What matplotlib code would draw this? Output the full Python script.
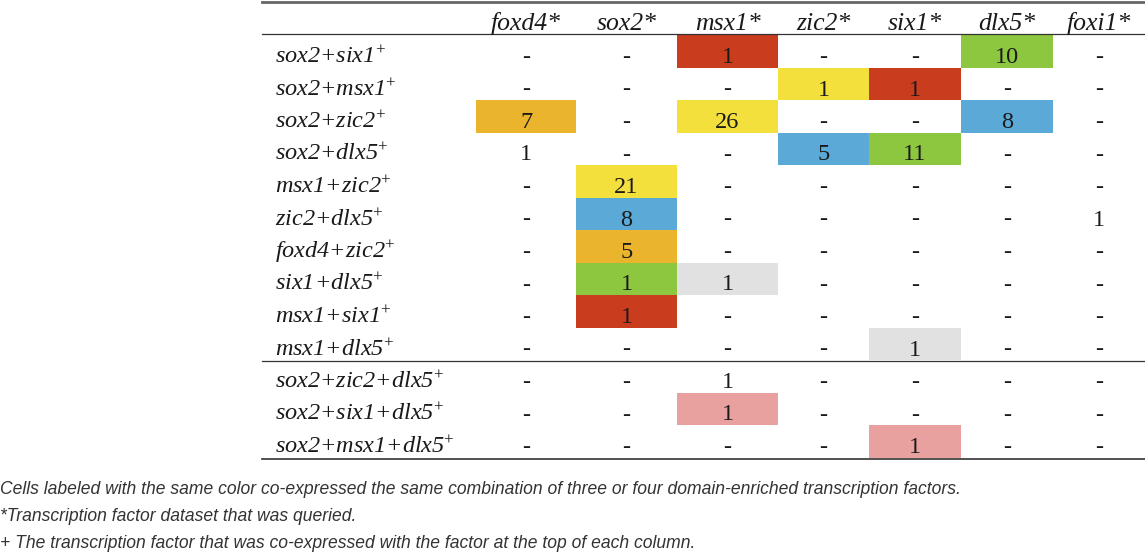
import matplotlib
matplotlib.use("Agg")
import matplotlib.pyplot as plt
from matplotlib.patches import Rectangle

# ---- data ----
columnas = ["foxd4*", "sox2*", "msx1*", "zic2*", "six1*", "dlx5*", "foxi1*"]
filas = ["sox2+six1", "sox2+msx1", "sox2+zic2", "sox2+dlx5", "msx1+zic2",
         "zic2+dlx5", "foxd4+zic2", "six1+dlx5", "msx1+six1", "msx1+dlx5",
         "sox2+zic2+dlx5", "sox2+six1+dlx5", "sox2+msx1+dlx5"]
valores = [
    [None, None, 1, None, None, 10, None],
    [None, None, None, 1, 1, None, None],
    [7, None, 26, None, None, 8, None],
    [1, None, None, 5, 11, None, None],
    [None, 21, None, None, None, None, None],
    [None, 8, None, None, None, None, 1],
    [None, 5, None, None, None, None, None],
    [None, 1, 1, None, None, None, None],
    [None, 1, None, None, None, None, None],
    [None, None, None, None, 1, None, None],
    [None, None, 1, None, None, None, None],
    [None, None, 1, None, None, None, None],
    [None, None, None, None, 1, None, None],
]
# color code per cell: R red, G green, Y yellow, B blue, O orange, W gray, P pink
codigos = [
    "..R..G.",
    "...YR..",
    "O.Y..B.",
    "...BG..",
    ".Y.....",
    ".B.....",
    ".O.....",
    ".GW....",
    ".R.....",
    "....W..",
    ".......",
    "..P....",
    "....P..",
]
notas = [
    "Cells labeled with the same color co-expressed the same combination of three or four domain-enriched transcription factors.",
    "*Transcription factor dataset that was queried.",
    "+ The transcription factor that was co-expressed with the factor at the top of each column.",
]

paleta = {"R": "#c93c1d", "G": "#8dc63f", "Y": "#f4e03c", "B": "#5aa9d7",
          "O": "#ebb42d", "W": "#e1e1e1", "P": "#e9a19f"}

plt.rcParams['mathtext.fontset'] = 'custom'
plt.rcParams['mathtext.rm'] = 'Liberation Serif'
plt.rcParams['mathtext.it'] = 'Liberation Serif:italic'

fig = plt.figure(figsize=(11.45, 5.56), dpi=100)
ax = fig.add_axes([0, 0, 1, 1])
ax.set_xlim(0, 1145)
ax.set_ylim(556, 0)
ax.axis("off")

bordes = [476, 576, 677, 778, 869, 961, 1053, 1145]
x0, x1 = 262, 1145
y_top = 35
alto = 32.5
fs = 17.5
serif = "Liberation Serif"
tinta = "#1a1a1a"

# header
for j, c in enumerate(columnas):
    xc = (bordes[j] + bordes[j + 1]) / 2
    ax.text(xc, 30, c, ha="center", va="baseline", fontsize=18.5,
            family=serif, style="italic", color=tinta)

for i, f in enumerate(filas):
    yb = y_top + alto * i + 28
    ax.text(275, yb, f + r"$^{+}$", ha="left", va="baseline", fontsize=fs,
            family=serif, style="italic", color=tinta)
    for j in range(len(columnas)):
        k = codigos[i][j]
        if k != ".":
            ax.add_patch(Rectangle((bordes[j], y_top + alto * i),
                                   bordes[j + 1] - bordes[j], alto,
                                   facecolor=paleta[k], edgecolor="none"))
        v = valores[i][j]
        xc = (bordes[j] + bordes[j + 1]) / 2
        ax.text(xc, yb, "-" if v is None else str(v), ha="center",
                va="baseline", fontsize=fs, family=serif, color=tinta)

ax.plot([x0, x1], [1.5, 1.5], color="#666666", lw=2.0)
ax.plot([x0, x1], [34, 34], color="#333333", lw=0.9)
ysep = y_top + alto * 10
ax.plot([x0, x1], [ysep + 1, ysep + 1], color="#333333", lw=0.9)
ybot = y_top + alto * len(filas)
ax.plot([x0, x1], [ybot + 1, ybot + 1], color="#333333", lw=1.2)

for n, t in enumerate(notas):
    ax.text(0, 490 + 26.5 * n, t, ha="left", va="center", fontsize=12.65,
            family="Liberation Sans", style="italic", color="#333333")

fig.savefig("out.png", dpi=100)
